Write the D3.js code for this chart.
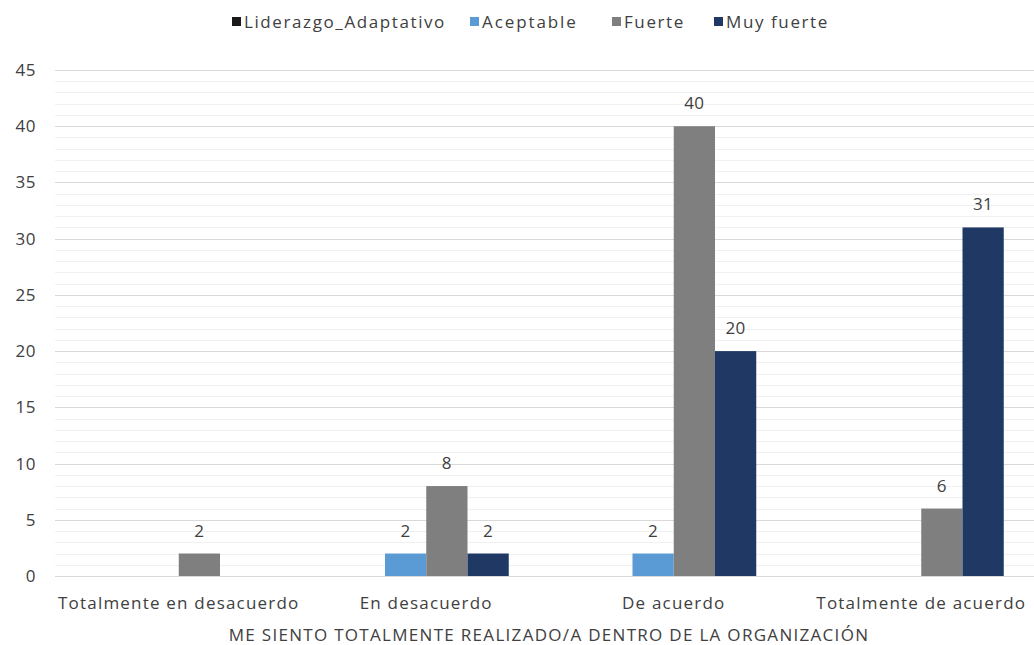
<!DOCTYPE html>
<html>
<head>
<meta charset="utf-8">
<script src="https://cdn.jsdelivr.net/npm/d3@7"></script>
<style>
  html, body { margin: 0; padding: 0; background: #fff; }
  svg { display: block; font-family: "Open Sans", sans-serif; }
</style>
</head>
<body>
<svg id="chart" width="1034" height="645"></svg>
<script>
// Response categories and series
const categories = ["Totalmente en desacuerdo", "En desacuerdo", "De acuerdo", "Totalmente de acuerdo"];
const seriesNames = ["Liderazgo_Adaptativo", "Aceptable", "Fuerte", "Muy fuerte"];
const liderazgo = [null, null, null, null];
const aceptable = [null, 2, 2, null];
const fuerte = [2, 8, 40, 6];
const muyFuerte = [null, 2, 20, 31];
const yTicks = [0, 5, 10, 15, 20, 25, 30, 35, 40, 45];
const axisTitle = "ME SIENTO TOTALMENTE REALIZADO/A DENTRO DE LA ORGANIZACIÓN";

const seriesValues = [liderazgo, aceptable, fuerte, muyFuerte];
const colors = ["#1a1a1a", "#5b9bd5", "#7f7f7f", "#203864"];
const textColor = "#404040";
const fontSize = 17;
const spacing = 1.2;

const svg = d3.select("#chart");
const W = 1034, H = 645;
const plot = { left: 55, right: 1045, top: 70, bottom: 576 };

const x = d3.scaleBand().domain(categories).range([plot.left, plot.right]).paddingInner(0).paddingOuter(0);
const groupPad = x.bandwidth() / 6; // gap width 200%
const xs = d3.scaleBand().domain(seriesNames).range([groupPad, x.bandwidth() - groupPad]);
const y = d3.scaleLinear().domain([0, 45]).range([plot.bottom, plot.top]);

svg.append("defs").append("clipPath").attr("id", "plotclip")
  .append("rect").attr("x", 0).attr("y", 0).attr("width", W).attr("height", H);

// minor gridlines
svg.append("g").selectAll("line").data(d3.range(0, 46, 1).filter(v => v % 5 !== 0))
  .join("line")
  .attr("x1", plot.left).attr("x2", W)
  .attr("y1", d => Math.round(y(d)) + 0.5).attr("y2", d => Math.round(y(d)) + 0.5)
  .attr("stroke", "#f0f0f0").attr("stroke-width", 1);

// major gridlines
svg.append("g").selectAll("line").data(yTicks.filter(v => v > 0))
  .join("line")
  .attr("x1", plot.left).attr("x2", W)
  .attr("y1", d => Math.round(y(d)) + 0.5).attr("y2", d => Math.round(y(d)) + 0.5)
  .attr("stroke", "#d9d9d9").attr("stroke-width", 1);

// y axis labels
const yAxis = d3.axisLeft(y).tickValues(yTicks).tickSize(0).tickPadding(0);
const yg = svg.append("g").attr("transform", `translate(36,0)`).call(yAxis);
yg.select(".domain").remove();
yg.selectAll("text").attr("font-size", fontSize).attr("fill", textColor)
  .attr("font-family", "'Open Sans', sans-serif").attr("letter-spacing", 0.5);

// bars and value labels
const groups = svg.append("g").attr("clip-path", "url(#plotclip)");
seriesNames.forEach((name, si) => {
  const vals = seriesValues[si];
  const data = categories.map((c, i) => ({ c, v: vals[i] })).filter(d => d.v != null);
  groups.append("g").selectAll("rect").data(data).join("rect")
    .attr("x", d => x(d.c) + xs(name))
    .attr("width", xs.bandwidth())
    .attr("y", d => y(d.v))
    .attr("height", d => y(0) - y(d.v))
    .attr("fill", colors[si]);
  groups.append("g").selectAll("text").data(data).join("text")
    .attr("x", d => x(d.c) + xs(name) + xs.bandwidth() / 2)
    .attr("y", d => y(d.v) - 17)
    .attr("text-anchor", "middle")
    .attr("font-size", fontSize).attr("fill", textColor).attr("letter-spacing", 0.5)
    .text(d => d.v);
});

// baseline
svg.append("line")
  .attr("x1", plot.left).attr("x2", W)
  .attr("y1", Math.round(y(0)) + 0.5).attr("y2", Math.round(y(0)) + 0.5)
  .attr("stroke", "#d9d9d9");

// x axis category labels
const xAxis = d3.axisBottom(x).tickSize(0).tickPadding(0);
const xg = svg.append("g").attr("transform", `translate(0,${plot.bottom + 21})`).call(xAxis);
xg.select(".domain").remove();
xg.selectAll("text").attr("font-size", fontSize).attr("fill", textColor)
  .attr("font-family", "'Open Sans', sans-serif").attr("letter-spacing", spacing);

// axis title
svg.append("text")
  .attr("x", 549).attr("y", 641)
  .attr("text-anchor", "middle")
  .attr("font-size", fontSize).attr("fill", textColor).attr("letter-spacing", 1.3)
  .text(axisTitle);

// legend
const legendX = [232, 470, 612, 714];
const legendSpacing = [1.6, 1.9, 1.6, 1.6];
const legend = svg.append("g");
seriesNames.forEach((name, i) => {
  legend.append("rect").attr("x", legendX[i]).attr("y", 17).attr("width", 9).attr("height", 9).attr("fill", colors[i]);
  legend.append("text").attr("x", legendX[i] + 12).attr("y", 28)
    .attr("font-size", fontSize).attr("fill", textColor).attr("letter-spacing", legendSpacing[i]).text(name);
});
</script>
</body>
</html>
